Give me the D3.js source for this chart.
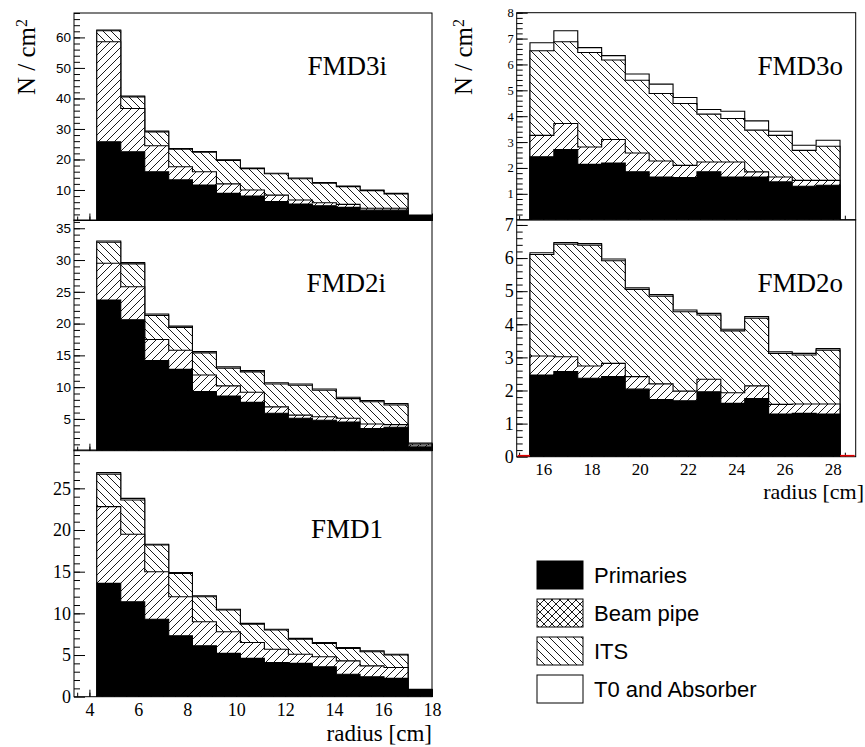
<!DOCTYPE html>
<html>
<head>
<meta charset="utf-8">
<script src="https://cdn.jsdelivr.net/npm/d3@7/dist/d3.min.js"></script>
<style>
  html, body { margin: 0; padding: 0; background: #fff; }
  svg { display: block; }
</style>
</head>
<body>
<svg id="chart" width="865" height="747"></svg>
<script>
// ---------------- DATA ----------------
// bin edges (radius, cm)
const innerEdges = [4.3, 5.28, 6.26, 7.24, 8.21, 9.19, 10.17, 11.15, 12.13, 13.11, 14.09, 15.06, 16.04, 17.02, 18.0];
const outerEdges = [15.45, 16.44, 17.43, 18.42, 19.40, 20.39, 21.38, 22.37, 23.36, 24.35, 25.34, 26.32, 27.31, 28.30];

const layerNames = ["Primaries", "Beam pipe", "ITS", "T0 and Absorber"];

// FMD3i
const fmd3iPrimaries = [25.8, 22.5, 16.0, 13.3, 11.6, 8.9, 8.0, 6.2, 5.4, 4.8, 4.3, 3.4, 3.4, 1.0];
const fmd3iBeamPipe  = [32.8, 14.2, 8.5, 4.3, 4.4, 3.1, 2.0, 2.1, 1.3, 1.0, 1.0, 0.6, 0.6, 0.3];
const fmd3iITS       = [3.6, 3.8, 4.5, 5.8, 6.4, 7.7, 7.0, 7.0, 7.0, 6.4, 5.8, 5.8, 4.7, 0.3];
const fmd3iT0        = [0.2, 0.3, 0.3, 0.2, 0.2, 0.2, 0.2, 0.2, 0.2, 0.2, 0.2, 0.2, 0.2, 0.2];

// FMD2i
const fmd2iPrimaries = [23.7, 20.6, 14.2, 12.8, 9.3, 8.6, 7.6, 5.9, 5.1, 4.8, 4.5, 3.5, 3.7, 0.6];
const fmd2iBeamPipe  = [5.8, 5.2, 3.3, 3.0, 2.6, 1.6, 1.6, 1.0, 0.5, 0.55, 0.6, 0.7, 0.4, 0.3];
const fmd2iITS       = [3.3, 3.6, 3.8, 3.6, 3.5, 2.8, 3.2, 3.6, 4.7, 4.15, 3.1, 3.5, 3.1, 0.2];
const fmd2iT0        = [0.2, 0.2, 0.2, 0.2, 0.2, 0.2, 0.2, 0.2, 0.2, 0.2, 0.2, 0.2, 0.2, 0.1];

// FMD1
const fmd1Primaries = [13.6, 11.4, 9.3, 7.3, 6.1, 5.2, 4.6, 4.1, 4.0, 3.6, 2.7, 2.4, 2.2, 0.8];
const fmd1BeamPipe  = [9.2, 8.1, 5.7, 4.7, 2.9, 2.6, 1.9, 1.6, 1.1, 1.2, 1.6, 1.3, 1.3, 0.05];
const fmd1ITS       = [3.9, 4.1, 3.2, 2.8, 3.0, 2.6, 2.2, 2.3, 1.8, 1.6, 1.5, 1.7, 1.5, 0.0];
const fmd1T0        = [0.2, 0.2, 0.1, 0.1, 0.1, 0.1, 0.1, 0.1, 0.1, 0.1, 0.1, 0.1, 0.1, 0.05];

// FMD3o
const fmd3oPrimaries = [2.43, 2.71, 2.14, 2.19, 1.85, 1.65, 1.63, 1.85, 1.65, 1.65, 1.46, 1.29, 1.33];
const fmd3oBeamPipe  = [0.83, 1.01, 0.67, 0.91, 0.73, 0.62, 0.47, 0.38, 0.58, 0.20, 0.19, 0.23, 0.19];
const fmd3oITS       = [3.27, 3.16, 3.65, 3.07, 2.81, 2.61, 2.39, 1.85, 1.68, 1.61, 1.61, 1.16, 1.32];
const fmd3oT0        = [0.31, 0.42, 0.19, 0.17, 0.24, 0.36, 0.23, 0.18, 0.28, 0.36, 0.16, 0.20, 0.23];

// FMD2o
const fmd2oPrimaries = [2.47, 2.57, 2.37, 2.42, 2.04, 1.73, 1.69, 1.96, 1.61, 1.76, 1.29, 1.31, 1.29];
const fmd2oBeamPipe  = [0.57, 0.45, 0.37, 0.40, 0.38, 0.47, 0.29, 0.38, 0.32, 0.38, 0.29, 0.28, 0.30];
const fmd2oITS       = [3.07, 3.40, 3.65, 3.10, 2.63, 2.65, 2.40, 1.94, 1.87, 2.04, 1.54, 1.48, 1.63];
const fmd2oT0        = [0.05, 0.05, 0.05, 0.05, 0.05, 0.05, 0.05, 0.05, 0.05, 0.05, 0.05, 0.05, 0.05];

// tick values
const innerXTicks = [4, 6, 8, 10, 12, 14, 16, 18];
const outerXTicks = [16, 18, 20, 22, 24, 26, 28];
const fmd3iYTicks = [10, 20, 30, 40, 50, 60];
const fmd2iYTicks = [5, 10, 15, 20, 25, 30, 35];
const fmd1YTicks  = [0, 5, 10, 15, 20, 25];
const fmd3oYTicks = [1, 2, 3, 4, 5, 6, 7, 8];
const fmd2oYTicks = [0, 1, 2, 3, 4, 5, 6, 7];

// ---------------- LAYOUT ----------------
const svg = d3.select("#chart");
const defs = svg.append("defs");

function hatch(id, d, size) {
  const p = defs.append("pattern").attr("id", id)
    .attr("patternUnits", "userSpaceOnUse").attr("width", size).attr("height", size);
  p.append("rect").attr("width", size).attr("height", size).attr("fill", "#fff");
  p.append("path").attr("d", d).attr("stroke", "#000").attr("stroke-width", 0.9).attr("fill", "none");
}
hatch("fwd", "M-2,2 l4,-4 M0,8 l8,-8 M6,10 l4,-4", 8);
hatch("bwd", "M0,0 l8,8 M-2,6 l4,4 M6,-2 l4,4", 8);
hatch("cross", "M-2,2 l4,-4 M0,8 l8,-8 M6,10 l4,-4 M0,0 l8,8 M-2,6 l4,4 M6,-2 l4,4", 8);

const layerFills = ["#000", "url(#fwd)", "url(#bwd)", "#fff"];

const serif = "'Liberation Serif', 'Times New Roman', serif";
const sans = "'Liberation Sans', Arial, sans-serif";

const panels = [
  { name: "FMD3i", data: [fmd3iPrimaries, fmd3iBeamPipe, fmd3iITS, fmd3iT0], edges: innerEdges,
    x0: 74, x1: 432, top: 13, bottom: 220.5, xDomain: [3.37, 18.0], yMax: 68,
    yTicks: fmd3iYTicks, yMinor: 2, xTicks: innerXTicks, showX: false, xFont: 18, xPad: 7,
    tickFont: sans, tickSize: 13.5, titleY: 75, titleX: 387 },
  { name: "FMD2i", data: [fmd2iPrimaries, fmd2iBeamPipe, fmd2iITS, fmd2iT0], edges: innerEdges,
    x0: 74, x1: 432, top: 220, bottom: 450.7, xDomain: [3.37, 18.0], yMax: 36.3,
    yTicks: fmd2iYTicks, yMinor: 1, xTicks: innerXTicks, showX: false, xFont: 18, xPad: 7,
    tickFont: sans, tickSize: 13.5, titleY: 292, titleX: 386 },
  { name: "FMD1", data: [fmd1Primaries, fmd1BeamPipe, fmd1ITS, fmd1T0], edges: innerEdges,
    x0: 74, x1: 432, top: 450, bottom: 696.7, xDomain: [3.37, 18.0], yMax: 29.6,
    yTicks: fmd1YTicks, yMinor: 1, xTicks: innerXTicks, showX: true, xFont: 18, xPad: 7,
    tickFont: serif, tickSize: 18, titleY: 538, titleX: 383 },
  { name: "FMD3o", data: [fmd3oPrimaries, fmd3oBeamPipe, fmd3oITS, fmd3oT0], edges: outerEdges,
    x0: 516.7, x1: 855.7, top: 12.7, bottom: 219.7, xDomain: [14.9, 28.95], yMax: 8.0,
    yTicks: fmd3oYTicks, yMinor: 0.2, xTicks: outerXTicks, showX: false, xFont: 17, xPad: 6,
    tickFont: serif, tickSize: 12.5, titleY: 75, titleX: 843 },
  { name: "FMD2o", data: [fmd2oPrimaries, fmd2oBeamPipe, fmd2oITS, fmd2oT0], edges: outerEdges,
    x0: 516.7, x1: 855.7, top: 220, bottom: 456.7, xDomain: [14.9, 28.95], yMax: 7.15,
    yTicks: fmd2oYTicks, yMinor: 0.2, xTicks: outerXTicks, showX: true, redZero: true, xFont: 17, xPad: 6,
    tickFont: serif, tickSize: 18, titleY: 292, titleX: 843 }
];

function drawPanel(p) {
  const g = svg.append("g");
  const x = d3.scaleLinear().domain(p.xDomain).range([p.x0, p.x1]);
  const y = d3.scaleLinear().domain([0, p.yMax]).range([p.bottom, p.top]);
  const n = p.data[0].length;

  // cumulative stacks
  const cum = [];
  let run = new Array(n).fill(0);
  p.data.forEach(arr => {
    run = run.map((v, i) => v + arr[i]);
    cum.push(run.slice());
  });

  const pts = c => {
    const a = p.edges.slice(0, n).map((e, i) => ({ x: e, v: c[i] }));
    a.push({ x: p.edges[n], v: c[n - 1] });
    return a;
  };
  const area = d3.area().curve(d3.curveStepAfter)
    .x(d => x(d.x)).y0(y(0)).y1(d => y(d.v));
  const line = d3.line().curve(d3.curveStepAfter)
    .x(d => x(d.x)).y(d => y(d.v));

  for (let k = cum.length - 1; k >= 0; k--) {
    const data = pts(cum[k]);
    g.append("path").attr("d", area(data)).attr("fill", "#fff");
    g.append("path").attr("d", area(data)).attr("fill", layerFills[k]);
    const outline = [{ x: p.edges[0], v: 0 }].concat(data).concat([{ x: p.edges[n], v: 0 }]);
    g.append("path").attr("d", line(outline)).attr("fill", "none")
      .attr("stroke", "#000").attr("stroke-width", 1.1);
  }

  // y axis (ticks inward)
  const yMinorVals = d3.range(0, p.yMax + 1e-9, p.yMinor).filter(v => v > 0);
  g.append("g").attr("transform", `translate(${p.x0},0)`)
    .call(d3.axisLeft(y).tickValues(yMinorVals).tickSize(-6).tickFormat(""))
    .call(a => a.select(".domain").remove());
  const ya = g.append("g").attr("transform", `translate(${p.x0},0)`)
    .call(d3.axisLeft(y).tickValues(p.yTicks).tickSize(-11).tickPadding(3))
    .call(a => a.select(".domain").remove());
  ya.selectAll("text").attr("font-family", p.tickFont).attr("font-size", p.tickSize).attr("fill", "#000");

  // x axis (ticks inward)
  const xMinorVals = d3.range(Math.ceil(p.xDomain[0] * 2) / 2, p.xDomain[1] + 1e-9, 0.5);
  g.append("g").attr("transform", `translate(0,${p.bottom})`)
    .call(d3.axisBottom(x).tickValues(xMinorVals).tickSize(-4).tickFormat(""))
    .call(a => a.select(".domain").remove());
  const xa = g.append("g").attr("transform", `translate(0,${p.bottom})`)
    .call(d3.axisBottom(x).tickValues(p.xTicks.filter(v => v <= p.xDomain[1])).tickSize(-7).tickPadding(p.xPad)
      .tickFormat(p.showX ? d3.format("d") : ""))
    .call(a => a.select(".domain").remove());
  xa.selectAll("text").attr("font-family", serif).attr("font-size", p.xFont).attr("fill", "#000");
  g.selectAll(".tick line").attr("stroke", "#000");

  // frame
  g.append("rect").attr("x", p.x0).attr("y", p.top)
    .attr("width", p.x1 - p.x0).attr("height", p.bottom - p.top)
    .attr("fill", "none").attr("stroke", "#000").attr("stroke-width", 1);

  // red zero line visible outside the bars
  if (p.redZero) {
    [[p.x0 + 1, x(p.edges[0])], [x(p.edges[n]), p.x1 - 1]].forEach(s => {
      g.append("line").attr("x1", s[0]).attr("x2", s[1])
        .attr("y1", y(0) - 1).attr("y2", y(0) - 1)
        .attr("stroke", "#e00000").attr("stroke-width", 1.6);
    });
  }

  // title
  g.append("text").attr("x", p.titleX).attr("y", p.titleY)
    .attr("text-anchor", "end").attr("font-family", serif).attr("font-size", 27)
    .text(p.name);
}

// draw lower panels first so upper ones sit on top
[panels[2], panels[1], panels[0], panels[4], panels[3]].forEach(drawPanel);

// axis titles
function yTitle(cx, cy) {
  const t = svg.append("text")
    .attr("transform", `translate(${cx},${cy}) rotate(-90)`)
    .attr("text-anchor", "middle").attr("font-family", serif).attr("font-size", 25);
  t.append("tspan").text("N / cm");
  t.append("tspan").attr("dy", "-0.5em").attr("font-size", 16).text("2");
}
yTitle(35, 57);
yTitle(472, 57);

svg.append("text").attr("x", 432).attr("y", 741).attr("text-anchor", "end")
  .attr("font-family", serif).attr("font-size", 23).text("radius [cm]");
svg.append("text").attr("x", 864).attr("y", 499).attr("text-anchor", "end")
  .attr("font-family", serif).attr("font-size", 22).text("radius [cm]");

// legend
const legendFills = ["#000", "url(#cross)", "url(#bwd)", "#fff"];
const legendY = [561, 599, 637, 675];
const lg = svg.append("g");
lg.selectAll("rect").data(layerNames).join("rect")
  .attr("x", 537).attr("y", (d, i) => legendY[i]).attr("width", 46).attr("height", 28)
  .attr("fill", (d, i) => legendFills[i]).attr("stroke", "#000").attr("stroke-width", 1);
lg.selectAll("text").data(layerNames).join("text")
  .attr("x", 594).attr("y", (d, i) => legendY[i] + 14).attr("dy", "0.36em")
  .attr("font-family", sans).attr("font-size", 22).text(d => d);
</script>
</body>
</html>
